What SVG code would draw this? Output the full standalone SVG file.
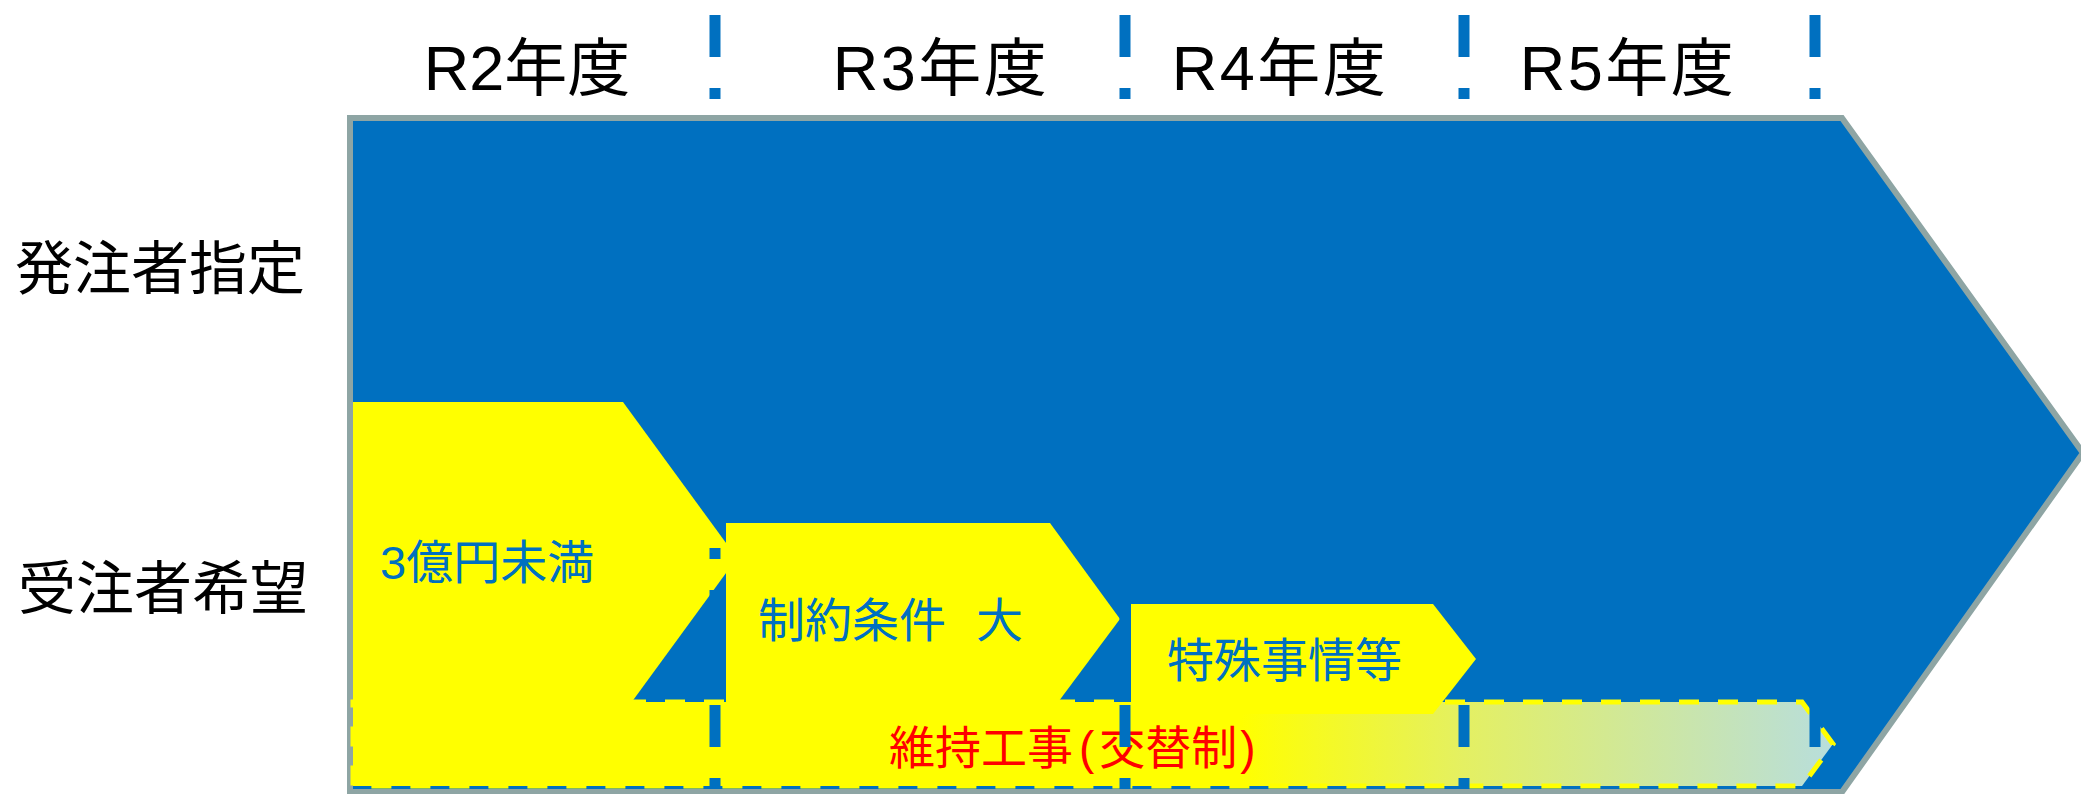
<svg xmlns="http://www.w3.org/2000/svg" width="2081" height="794" viewBox="0 0 2081 794">
<defs>
<style>
.hdr{font-family:"Liberation Sans","Noto Sans CJK JP",sans-serif;font-size:63px;fill:#000;text-anchor:middle}
.wide{letter-spacing:2.5px}
.row{font-family:"Noto Sans CJK JP","Liberation Sans",sans-serif;font-size:58px;fill:#000;text-anchor:middle}
.lbl{font-family:"Liberation Sans","Noto Sans CJK JP",sans-serif;font-size:47px;fill:#0070C0}
.sep{stroke:#0070C0;stroke-width:11;stroke-dasharray:42 31 11 31;fill:none}
.ylw{fill:#FFFF00}
</style>
<linearGradient id="bandGrad" x1="353" y1="0" x2="1833" y2="0" gradientUnits="userSpaceOnUse">
<stop offset="0" stop-color="#FFFF00"/>
<stop offset="0.6" stop-color="#FFFF00"/>
<stop offset="0.75" stop-color="#E4F062"/>
<stop offset="1" stop-color="#B8DEDC"/>
</linearGradient>
</defs>
<rect width="2081" height="794" fill="#fff"/>
<g id="main-arrow">
<polygon points="350,118 1842,118 2083,453 1842,792 350,792" fill="#0070C0" stroke="#8EA5A4" stroke-width="6"/>
</g>
<g id="band">
<polygon points="353,702 1802,702 1833,744 1802,786 353,786" fill="url(#bandGrad)" stroke="#FFFF00" stroke-width="5" stroke-dasharray="20 19"/>
<text x="889" y="764" font-family="Liberation Sans,Noto Sans CJK JP,sans-serif" font-size="46" fill="#FF0000">維持工事<tspan dx="6">(</tspan><tspan dx="5">交替制</tspan><tspan dx="3">)</tspan></text>
</g>
<g id="connectors-back">
<line class="sep" x1="1464" y1="15" x2="1464" y2="800"/>
</g>
<g id="shape1">
<polygon class="ylw" points="353,402 623,402 737,558 623,714 353,714"/>
<text class="lbl" x="380" y="579">3億円未満</text>
</g>
<g id="shape2">
<polygon class="ylw" points="726,523 1050,523 1120,619 1050,713 726,713"/>
<text class="lbl" x="758" y="637" style="word-spacing:17px">制約条件 大</text>
</g>
<g id="shape3">
<polygon class="ylw" points="1131,604 1433,604 1476,659 1433,714 1131,714"/>
<text class="lbl" x="1167" y="677">特殊事情等</text>
</g>
<g id="connectors">
<line class="sep" x1="715" y1="15" x2="715" y2="800"/>
<line class="sep" x1="1125" y1="15" x2="1125" y2="800"/>
<line class="sep" x1="1815" y1="15" x2="1815" y2="800"/>
</g>
<g id="headers">
<text class="hdr" x="527" y="90">R2年度</text>
<text class="hdr wide" x="941" y="90">R3年度</text>
<text class="hdr wide" x="1280" y="90">R4年度</text>
<text class="hdr wide" x="1628" y="90">R5年度</text>
</g>
<g id="rows">
<text class="row" x="160" y="289">発注者指定</text>
<text class="row" x="163" y="609">受注者希望</text>
</g>
</svg>
